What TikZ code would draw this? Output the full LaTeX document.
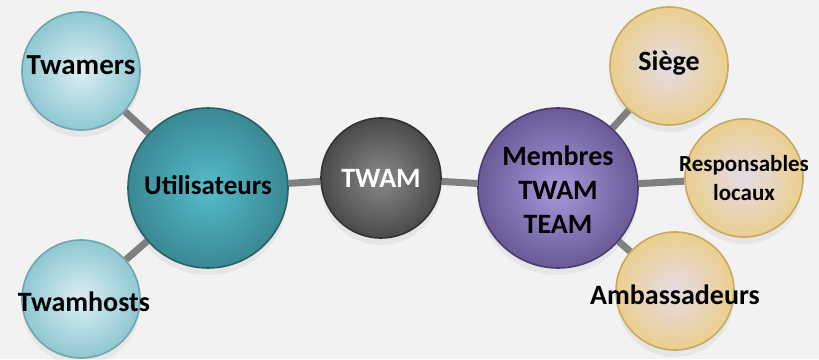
\documentclass[tikz,border=0pt]{standalone}
\usepackage{fontspec}
\setmainfont{Carlito}
\usetikzlibrary{backgrounds,shadows}

\definecolor{skyIn}{HTML}{DCEFF3}
\definecolor{skyOut}{HTML}{8FC8D2}
\definecolor{skyRim}{HTML}{6FA6B0}
\definecolor{sandIn}{HTML}{E4DCE8}
\definecolor{sandOut}{HTML}{EBCF8E}
\definecolor{sandRim}{HTML}{C9A862}
\definecolor{tealIn}{HTML}{55BCCB}
\definecolor{tealOut}{HTML}{3A8894}
\definecolor{tealRim}{HTML}{2A5F68}
\definecolor{plumIn}{HTML}{A898D8}
\definecolor{plumOut}{HTML}{6A5A98}
\definecolor{plumRim}{HTML}{4A3D6C}
\definecolor{greyIn}{HTML}{8A8A8A}
\definecolor{greyOut}{HTML}{4A4A4A}

\tikzset{
  bubble/.style={circle, inner sep=0pt, line width=1.6pt,
    drop shadow={opacity=0.10, shadow xshift=0pt, shadow yshift=-7pt}},
  small/.style={bubble, minimum size=118pt},
  big/.style={bubble, minimum size=160pt},
  sky/.style={small, draw=skyRim, inner color=skyIn, outer color=skyOut},
  sand/.style={small, draw=sandRim, inner color=sandIn, outer color=sandOut},
  teal ball/.style={big, draw=tealRim, inner color=tealIn, outer color=tealOut},
  grey ball/.style={bubble, minimum size=120pt, draw=black!80, inner color=greyIn, outer color=greyOut},
  plum ball/.style={big, draw=plumRim, inner color=plumIn, outer color=plumOut},
  txt/.style={font=\bfseries\fontsize{28}{34}\selectfont, align=center, text=black},
  link/.style={line width=7pt, draw=black!50}
}

\begin{document}
\begin{tikzpicture}[x=1pt, y=1pt]
  \useasboundingbox (0,0) rectangle (819,359);

  % Bubbles
  \node[teal ball] (users) at (208,171) {};
  \node[grey ball] (twam) at (381,181) {};
  \node[plum ball] (team) at (558,171) {};

  \foreach \n/\x/\y/\s in {twamers/81/288/sky, hosts/81/60/sky, siege/669/293/sand, resp/744/181/sand, amb/675/68/sand} {
    \node[\s] (\n) at (\x,\y) {};
  }

  % Texts
  \node[txt, font=\bfseries\fontsize{27}{34}\selectfont] (users-t) at ([yshift=3pt]users) {Utilisateurs};
  \node[txt, text=white] (twam-t) at (twam) {TWAM};
  \node[txt] (team-t) at ([yshift=-2pt]team) {Membres\\TWAM\\TEAM};
  \node[txt, font=\bfseries\fontsize{29}{34}\selectfont] (twamers-t) at ([yshift=6pt]twamers) {Twamers};
  \node[txt] (hosts-t) at ([xshift=3pt, yshift=-3pt]hosts) {Twamhosts};
  \node[txt] (siege-t) at ([yshift=3pt]siege) {Siège};
  \node[txt, font=\bfseries\fontsize{23}{29}\selectfont] (resp-t) at (resp) {Responsables\\locaux};
  \node[txt] (amb-t) at ([yshift=-4pt]amb) {Ambassadeurs};

  % Links and background
  \begin{scope}[on background layer]
    \fill[black!5] (0,0) rectangle (819,359);
    \foreach \a/\b in {twamers/users, hosts/users, users/twam, twam/team, team/siege, team/resp, team/amb} {
      \draw[link] (\a) -- (\b);
    }
  \end{scope}
\end{tikzpicture}
\end{document}
